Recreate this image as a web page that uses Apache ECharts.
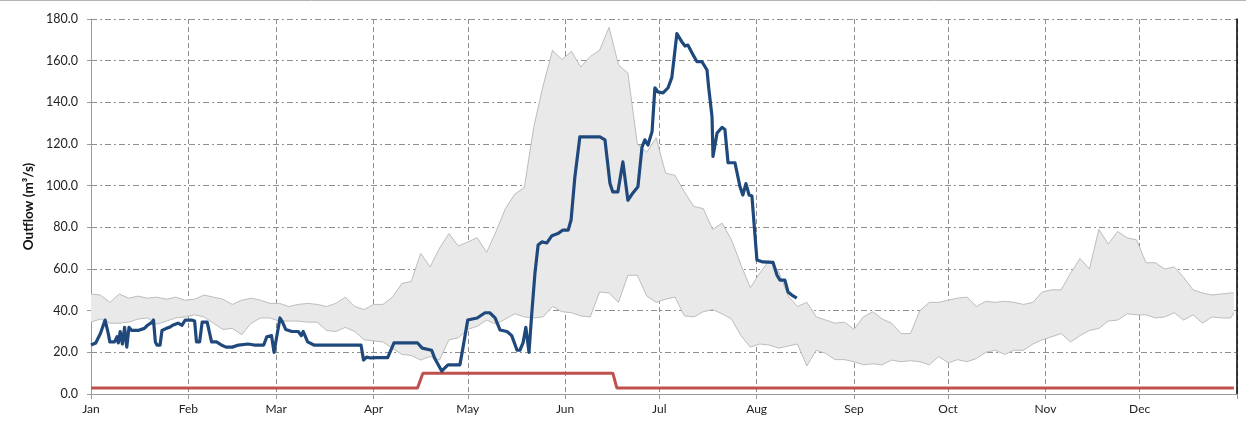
<!DOCTYPE html>
<html>
<head>
<meta charset="utf-8">
<script src="https://cdn.jsdelivr.net/npm/echarts@6/dist/echarts.min.js"></script>
<style>
html,body{margin:0;padding:0;background:#fff;}
#chart{width:1246px;height:423px;}
</style>
</head>
<body>
<div id="chart"></div>
<script>
// Month tick labels and their day-of-year positions
const monthNames = ['Jan','Feb','Mar','Apr','May','Jun','Jul','Aug','Sep','Oct','Nov','Dec'];
const monthStarts = [0,31,59,90,120,151,181,212,243,273,304,334];
const yearEnd = 365;

// Historical range band (day of year, low, high)
const bandDays = [0,3,6,9,12,15,18,21,24,27,30,33,36,39,42,45,48,51,54,57,60,63,66,69,72,75,78,81,84,87,90,93,96,99,102,105,108,111,114,117,120,123,126,129,132,135,138,141,144,147,150,153,156,159,162,165,168,171,174,177,180,183,186,189,192,195,198,201,204,207,210,213,216,219,222,225,228,231,234,237,240,243,246,249,252,255,258,261,264,267,270,273,276,279,282,285,288,291,294,297,300,303,306,309,312,315,318,321,324,327,330,333,336,339,342,345,348,351,354,357,360,363,364];
const bandHigh = [48,47.5,44,48,46,47,46,46.5,45.5,46.5,45,45.5,47.5,46.5,45.5,43,45,46,45,43.5,43.5,42,43,43.5,43,42,43.5,46.5,42,40.5,43,43,46.5,53,54,67.5,61,70,77,71,73,75,68,78,89,96,99,128,148,165,160.5,164.5,157,162,165,176,158,154,120,116,123,106,105,97,90,89,79,82,74,62,51,58,64,59,47,42,44,37,35.5,34,34.5,31,37,39.5,36,34,29,29,40,44,44,45,46,46.5,42,44.5,44,44.5,44,43,44,49,50,50,58,65,60,79,72,78,75,74,63,63,60,61,56,50,48.5,47.5,48,48.5,48.5];
const bandLow = [34.5,36,34,34,34.5,36,36.5,33.5,35,36.5,37,38,37,34,31,31.5,28.5,34,36.5,36.5,35,35,35,34.5,34.5,30.5,30,32,30,26,25.5,25,22,19,18.5,16.3,18,16.3,26,27,31,32.5,35.5,33.5,36,38.5,37,36.5,37,42,39.5,39,37.5,37,49,48.5,44,57,57,47,44,45.5,46.5,37.5,37,39.5,40.5,38.5,36,28,22.5,24,23.5,22,23,24,13.5,21,19.5,16.5,16.5,15.5,14,14.5,14,16.3,15.5,16,15.5,14,18,15,16.5,15.5,17,20,21,19,21,21,24,26,27.5,29,25,28,30.5,31.5,35,35.5,38.5,38,38,36.5,37,39,35.5,38,34,37,36.5,36.5,39];

// Current-year outflow (day of year, value)
const flowDays = [0,1.5,3,4.5,5.5,6,7.5,8.3,8.7,9.3,10,10.7,11.4,12.1,13,15,17,18,19.5,19.9,20.5,21,22,22.6,24,25,26,27.7,29,30,32,33,33.6,34.6,35.4,37,38.4,40,41.5,43,45,47,50,52,55,56,57.5,58.3,59.2,60.2,61,62,64,66,67,67.6,69,71,86,86.8,87.8,89,91,94.5,96.5,104,105.5,108.5,109.5,111.7,112.7,113.7,117.5,118.5,120,123,125.5,127,128.7,130.3,132.5,134,135.7,136.6,137.6,138.5,139.5,140.4,141.4,142.4,143.6,145.2,146.8,148.7,150.3,152,152.9,154.1,155.7,159.9,160.5,162.1,163.7,165.3,166.2,167.8,169.4,171,172.6,174.2,175.5,176.4,177.4,178.7,179.6,180.6,182.2,183.8,185,186.6,188.2,189.2,190.1,191.7,193,194.6,196.2,196.7,197.8,198.1,199.4,201,201.9,202.9,205.1,206.7,207.6,208.6,209.6,210.5,212.1,214,217.2,218.5,219.4,221,222,223.2,224.8];
const flowVals = [23.5,24.5,29,35.5,29,25,25,27.5,24.5,30,24,32,22.5,32,30.5,30.5,31.5,33,34.5,35.5,25,23.5,23.5,30.5,31.5,32,33,34,33,35.5,35.5,35,25,25,34.5,34.5,25,25,23.5,22.5,22.5,23.5,24,23.5,23.5,27.5,28,20,28,36.5,34.5,31,30,30,28,30,25,23.5,23.5,16.3,17.7,17.3,17.5,17.5,24.5,24.5,22,21,17,11,12.5,14,14,22.5,35.5,36.5,39,39,36.5,30.7,30,28,21,21,24.5,32,20,39,58,71.5,73,72.5,76,77,78.7,78.7,83.5,104,123.4,123.4,124.3,123.4,122,101,97,97,111.4,93,96.5,99.5,118.5,122,119.5,126,147,145,144.5,147,152,173,169,167,167.5,163,159.5,159.5,155.5,147.5,133,114,125.3,128,127,111,111,99.5,95.5,101,95.5,95,64.3,63.4,63.2,57,54.7,54.7,49,47.5,46];

// Minimum release requirement (day of year, value)
const minDays = [0,104,105.7,166.2,167.5,364];
const minVals = [2.83,2.83,10,10,2.83,2.83];

const pairs = (xs, ys) => xs.map((x, i) => [x, ys[i]]);
const bandData = bandDays.map((d, i) => [d, bandLow[i], bandHigh[i]]);

const font = 'Lato, "Liberation Sans", sans-serif';
const gridColor = '#8f8f8f';

const chart = echarts.init(document.getElementById('chart'), null, {renderer: 'canvas'});
chart.setOption({
  animation: false,
  backgroundColor: '#ffffff',
  graphic: [{
    type: 'line', silent: true,
    shape: {x1: 0, y1: 0.5, x2: 1246, y2: 0.5},
    style: {stroke: '#b4b4b4', lineWidth: 1}
  }],
  grid: {left: 91, right: 9, top: 19, bottom: 29},
  xAxis: {
    type: 'value', min: 0, max: yearEnd,
    axisLine: {show: true, lineStyle: {color: '#9a9a9a', width: 1}},
    axisTick: {show: true, length: 5, inside: false, customValues: monthStarts.concat([yearEnd]), lineStyle: {color: '#9a9a9a'}},
    axisLabel: {
      customValues: monthStarts,
      formatter: v => monthNames[monthStarts.indexOf(v)] || '',
      color: '#222', fontFamily: font, fontSize: 12, margin: 9
    },
    splitLine: {show: true, lineStyle: {color: gridColor, width: 1, type: [5, 3]}}
  },
  yAxis: [{
    type: 'value', min: 0, max: 180, interval: 20,
    name: 'Outflow (m³/s)', nameLocation: 'middle', nameGap: 52,
    nameTextStyle: {fontFamily: font, fontSize: 13.5, fontWeight: 'bold', color: '#111'},
    axisLine: {show: true, lineStyle: {color: '#9a9a9a', width: 1}},
    axisTick: {show: true, length: 4, lineStyle: {color: '#9a9a9a'}},
    axisLabel: {formatter: v => v.toFixed(1), color: '#222', fontFamily: font, fontSize: 12.5, margin: 13},
    splitLine: {show: true, lineStyle: {color: gridColor, width: 1, type: [6, 3, 2, 3]}}
  }, {
    type: 'value', min: 0, max: 180, position: 'right',
    axisLine: {show: true, lineStyle: {color: '#000', width: 1.5}},
    axisTick: {show: false}, axisLabel: {show: false}, splitLine: {show: false}
  }],
  series: [{
    name: 'Range', type: 'custom', clip: true, z: 1,
    data: bandData,
    encode: {x: 0, y: [1, 2]},
    renderItem: (params, api) => {
      if (params.dataIndex !== 0) return null;
      const top = bandData.map(r => api.coord([r[0], r[2]]));
      const bottom = bandData.map(r => api.coord([r[0], r[1]])).reverse();
      return {
        type: 'group',
        children: [{
          type: 'polygon',
          shape: {points: top.concat(bottom)},
          style: {fill: '#e9e9e9', stroke: null}
        }, {
          type: 'polyline',
          shape: {points: top},
          style: {fill: null, stroke: '#bdbdbd', lineWidth: 1}
        }, {
          type: 'polyline',
          shape: {points: bottom},
          style: {fill: null, stroke: '#bdbdbd', lineWidth: 1}
        }]
      };
    }
  }, {
    name: 'Minimum', type: 'line', showSymbol: false, symbol: 'none',
    data: pairs(minDays, minVals),
    lineStyle: {color: '#c0504d', width: 3},
    z: 3
  }, {
    name: 'Outflow', type: 'line', showSymbol: false, symbol: 'none',
    data: pairs(flowDays, flowVals),
    lineStyle: {color: '#1f497d', width: 3.2, join: 'round'},
    z: 4
  }]
});
</script>
</body>
</html>
